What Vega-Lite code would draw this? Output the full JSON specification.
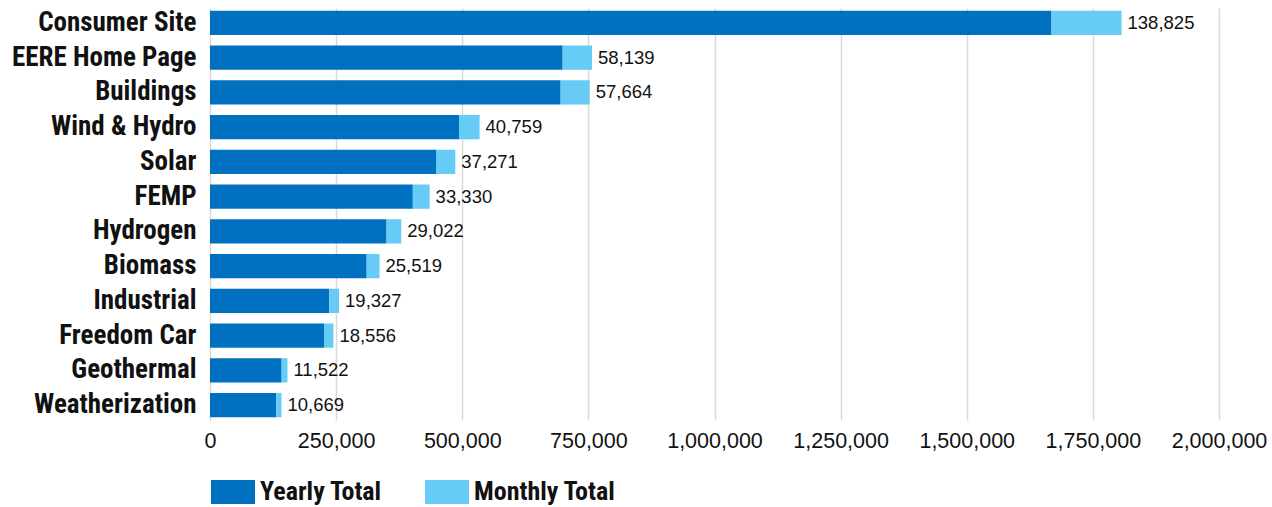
{
  "$schema": "https://vega.github.io/schema/vega-lite/v6.json",
  "autosize": "none",
  "width": 1009,
  "height": 412,
  "padding": {"left": 210, "top": 8, "right": 53, "bottom": 87},
  "background": "white",
  "data": {
    "values": [
      {"site": "Consumer Site", "Yearly Total": 1668000, "Monthly Total": 138825},
      {"site": "EERE Home Page", "Yearly Total": 699000, "Monthly Total": 58139},
      {"site": "Buildings", "Yearly Total": 695000, "Monthly Total": 57664},
      {"site": "Wind & Hydro", "Yearly Total": 493600, "Monthly Total": 40759},
      {"site": "Solar", "Yearly Total": 449000, "Monthly Total": 37271},
      {"site": "FEMP", "Yearly Total": 402000, "Monthly Total": 33330},
      {"site": "Hydrogen", "Yearly Total": 350000, "Monthly Total": 29022},
      {"site": "Biomass", "Yearly Total": 310500, "Monthly Total": 25519},
      {"site": "Industrial", "Yearly Total": 236500, "Monthly Total": 19327},
      {"site": "Freedom Car", "Yearly Total": 226000, "Monthly Total": 18556},
      {"site": "Geothermal", "Yearly Total": 142000, "Monthly Total": 11522},
      {"site": "Weatherization", "Yearly Total": 131000, "Monthly Total": 10669}
    ]
  },
  "transform": [
    {"fold": ["Yearly Total", "Monthly Total"], "as": ["series", "value"]}
  ],
  "layer": [
    {
      "mark": {"type": "bar"},
      "encoding": {
        "y": {"field": "site", "type": "nominal", "sort": null, "title": null,
              "scale": {"paddingInner": 0.3, "paddingOuter": 0.08}},
        "x": {"field": "value", "type": "quantitative", "stack": "zero",
              "scale": {"domain": [0, 2000000], "nice": false},
              "axis": {"title": null, "values": [0, 250000, 500000, 750000, 1000000, 1250000, 1500000, 1750000, 2000000], "format": ",.0f", "labelOverlap": false, "labelBound": false}},
        "color": {"field": "series", "type": "nominal",
                  "scale": {"domain": ["Yearly Total", "Monthly Total"], "range": ["#0070C0", "#66CCF5"]},
                  "legend": {"title": null, "orient": "none", "legendX": 1, "legendY": 462, "direction": "horizontal"}},
        "order": {"field": "series", "sort": "descending"}
      }
    },
    {
      "transform": [
        {"stack": "value", "groupby": ["site"], "sort": [{"field": "series", "order": "descending"}], "as": ["v0", "v1"]},
        {"filter": "datum.series === 'Monthly Total'"}
      ],
      "mark": {"type": "text", "align": "left", "baseline": "middle", "dx": 6, "fontSize": 18.5, "font": "Liberation Sans", "color": "#111111"},
      "encoding": {
        "y": {"field": "site", "type": "nominal", "sort": null, "title": null},
        "x": {"field": "v1", "type": "quantitative", "title": null,
              "axis": {"title": null, "values": [0, 250000, 500000, 750000, 1000000, 1250000, 1500000, 1750000, 2000000], "format": ",.0f", "labelOverlap": false, "labelBound": false}},
        "text": {"field": "value", "type": "quantitative", "format": ",.0f"}
      }
    }
  ],
  "config": {
    "view": {"stroke": null},
    "axisY": {"labelFont": "Roboto Condensed", "labelFontWeight": "bold", "labelFontSize": 27, "labelColor": "#111111", "ticks": false, "domain": false, "labelPadding": 14, "grid": false, "labelLimit": 300},
    "axisX": {"labelFont": "Liberation Sans", "labelFontSize": 21.5, "labelColor": "#111111", "ticks": false, "domain": false, "labelPadding": 10, "grid": true, "gridColor": "#d9d9d9", "gridWidth": 1.5, "labelOverlap": false, "labelBound": false, "labelFlush": false},
    "legend": {"symbolType": "M-1,-0.545H1V0.545H-1Z", "symbolSize": 1936, "symbolStrokeWidth": 0, "symbolOpacity": 1, "labelFont": "Roboto Condensed", "labelFontWeight": "bold", "labelFontSize": 26, "labelColor": "#111111", "labelOffset": 5, "columnPadding": 43, "padding": 0, "labelLimit": 300}
  }
}
